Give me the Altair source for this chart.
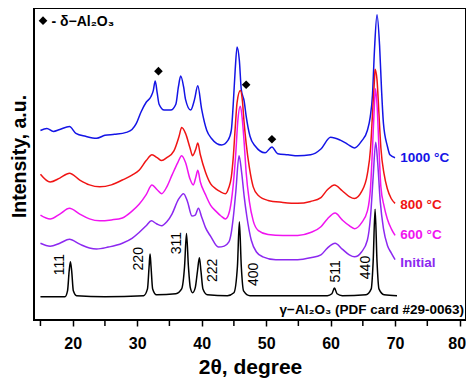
import altair as alt
import pandas as pd

FONT = "Liberation Sans"

# ---- data (2theta in degrees, intensity in arbitrary units) ----
blue_x = [15.0, 16.0, 17.0, 18.0, 19.5, 20.5, 22.0, 23.7, 25.0, 26.5, 28.3, 29.2, 29.85, 30.6, 31.4,
          32.15, 32.5, 32.8, 33.1, 33.4, 34.2, 35.2, 36.0, 36.4, 36.75, 37.2, 37.5, 38.3, 38.9, 39.4,
          40.0, 40.8, 41.5, 43.1, 44.1, 44.6, 44.9, 45.2, 45.5, 45.85, 46.15, 46.6, 46.9, 47.5, 48.3,
          49.85, 50.9, 51.8, 53.4, 54.9, 56.9, 58.5, 60.0, 61.5, 62.6, 63.7, 64.8, 65.7, 66.15, 66.5,
          66.8, 67.2, 67.6, 67.9, 68.2, 68.8, 69.2, 70.0]
blue_y = [195, 197, 194, 196, 199, 192, 189, 187, 190, 191, 193, 196, 202, 214, 224,
          230, 236, 246, 234, 222, 216, 216, 222, 240, 251, 240, 227, 216, 227, 241,
          217, 195, 187, 180, 185, 195, 222, 257, 281, 267, 237, 225, 210, 189, 179,
          172, 178, 171, 170, 169, 170, 176, 188, 185, 181, 177, 184, 195, 209, 232,
          277, 314, 282, 237, 202, 179, 170, 167]

red_x = [15.0, 16.5, 18.0, 19.5, 21.1, 22.6, 24.2, 26.0, 27.7, 29.2, 30.3, 31.4, 32.3, 33.1, 33.8,
         34.6, 35.7, 36.5, 36.9, 37.5, 38.2, 38.6, 39.1, 39.4, 39.8, 40.6, 41.4, 42.2, 42.9, 43.7,
         44.2, 44.6, 44.9, 45.2, 45.5, 46.0, 46.3, 46.6, 46.9, 47.4, 48.0, 48.8, 50.3, 52.6, 54.9,
         56.9, 58.5, 59.5, 60.6, 61.8, 62.9, 63.7, 64.8, 65.7, 66.2, 66.5, 66.8, 66.9, 67.2, 67.5,
         67.8, 68.3, 68.8, 69.4, 70.0]
red_y = [150, 142, 146, 151, 144, 139, 137, 139, 144, 149, 154, 164, 170, 167, 164,
         167, 174, 189, 198, 192, 177, 169, 176, 182, 170, 152, 140, 135, 132, 130,
         136, 147, 167, 197, 224, 236, 227, 202, 182, 157, 137, 128, 123, 121, 120,
         122, 126, 134, 139, 133, 127, 125, 132, 150, 177, 212, 247, 258, 247, 212,
         177, 150, 135, 125, 120]

mag_x = [15.0, 16.5, 18.0, 19.5, 21.1, 22.6, 24.2, 26.0, 27.7, 29.2, 30.3, 31.4, 32.3, 33.1, 33.8,
         34.6, 35.4, 36.3, 36.9, 37.5, 38.2, 38.7, 39.1, 39.4, 39.8, 40.6, 41.4, 42.2, 43.0, 43.7,
         44.2, 44.6, 44.9, 45.3, 45.6, 46.0, 46.3, 46.6, 46.9, 47.4, 48.0, 48.8, 50.3, 52.6, 54.9,
         56.9, 58.5, 59.5, 60.7, 61.8, 62.9, 63.7, 64.8, 65.7, 66.2, 66.5, 66.8, 66.95, 67.2, 67.5,
         67.8, 68.3, 68.8, 69.4, 70.0]
mag_y = [108, 104, 109, 115, 109, 104, 102, 103, 105, 112, 119, 129, 139, 134, 130,
         137, 149, 162, 169, 162, 145, 139, 147, 154, 142, 129, 118, 112, 107, 104,
         109, 122, 139, 172, 204, 220, 207, 182, 152, 122, 102, 92, 88, 87, 87,
         90, 96, 104, 110, 103, 97, 94, 100, 112, 137, 177, 222, 238, 222, 177,
         137, 117, 104, 94, 87]

ini_x = [15.0, 16.5, 18.0, 19.5, 21.1, 22.6, 23.7, 25.5, 27.7, 29.2, 30.3, 31.4, 32.2, 33.0, 33.8,
         34.6, 35.4, 36.4, 37.2, 37.8, 38.5, 39.0, 39.5, 40.0, 40.6, 41.4, 42.6, 43.5, 44.2, 44.6,
         44.9, 45.3, 45.8, 46.2, 46.6, 47.0, 47.7, 48.5, 49.5, 51.5, 54.9, 56.9, 58.5, 59.5, 60.7,
         61.8, 62.9, 63.7, 64.8, 65.7, 66.2, 66.6, 67.0, 67.3, 67.7, 68.2, 68.8, 69.4, 70.0]
ini_y = [79, 76, 79, 83, 78, 74, 73, 75, 79, 84, 90, 97, 102, 99, 97,
         101, 109, 124, 130, 122, 107, 108, 115, 106, 95, 86, 75, 76, 80, 90,
         105, 132, 169, 152, 127, 107, 82, 70, 65, 62, 62, 64, 67, 74, 79,
         73, 67, 65, 70, 82, 107, 147, 183, 162, 122, 94, 77, 69, 62]

ref_x = [15.0, 18.8, 19.2, 19.45, 19.65, 19.85, 20.1, 20.6, 25.0, 31.0, 31.6, 31.85, 32.0, 32.15, 32.4,
         33.0, 36.0, 36.9, 37.35, 37.65, 37.95, 38.25, 38.6, 39.0, 39.35, 39.65, 39.9, 40.2, 40.9, 44.0,
         45.0, 45.55, 45.85, 46.15, 46.5, 47.5, 59.5, 60.2, 60.6, 61.0, 61.8, 65.5, 66.3, 66.6, 66.9,
         67.2, 67.5, 68.3, 70.3]
ref_y = [24, 24, 30, 50, 60, 50, 30, 25, 24, 25, 32, 55, 68, 55, 32,
         26, 27, 32, 55, 89, 55, 33, 28, 33, 50, 64, 50, 32, 26, 25,
         28, 55, 101, 55, 30, 25, 25, 27, 33, 27, 25, 26, 32, 60, 114,
         60, 32, 26, 25]

series_names = ["1000 °C", "800 °C", "600 °C", "Initial", "ref"]
series_colors = ["#1414e6", "#f01414", "#f014f0", "#8c28f0", "#000000"]

hkl_labels = ["111", "220", "311", "222", "400", "511", "440"]
hkl_x = [18.0, 30.3, 36.15, 41.7, 48.15, 60.8, 65.5]
hkl_y = [57, 63, 79, 51, 47, 50, 54]

name_labels = ["1000 °C", "800 °C", "600 °C", "Initial"]
name_x = [70.8, 70.8, 70.8, 70.8]
name_y = [167, 118, 87, 59]

delta_x = [33.3, 46.9, 50.9]
delta_y = [256, 242, 186]

legend_mark_x = [15.4]
legend_mark_y = [308]
legend_text = ["- δ−Al₂O₃"]
legend_text_x = [16.7]
legend_text_y = [307]

card_text = ["γ−Al₂O₃ (PDF card #29-0063)"]
card_x = [80.7]
card_y = [10]

major_ticks = [20, 30, 40, 50, 60, 70, 80]
minor_ticks = [15, 25, 35, 45, 55, 65, 75]

PLOT_W, PLOT_H = 432, 312

# ---- tables ----
rows = []
for name, xs, ys in zip(series_names, [blue_x, red_x, mag_x, ini_x, ref_x],
                        [blue_y, red_y, mag_y, ini_y, ref_y]):
    for i, (a, b) in enumerate(zip(xs, ys)):
        rows.append({"series": name, "t": a, "I": b, "o": i})
curves = pd.DataFrame(rows)

xscale = alt.Scale(domain=[14, 81], nice=False, zero=False)
yscale = alt.Scale(domain=[0, 321], nice=False, zero=False)
cscale = alt.Scale(domain=series_names, range=series_colors)

xaxis = alt.Axis(values=major_ticks, format="d",
                 title="2θ, degree", titleFont=FONT, titleFontSize=21, titleFontWeight="bold",
                 titleColor="black", titlePadding=5,
                 labelFont=FONT, labelFontSize=16, labelFontWeight="bold", labelColor="black",
                 labelPadding=9, tickSize=6, tickWidth=1.5, tickColor="black",
                 domain=False, grid=False, labelFlush=10, labelFlushOffset=6)
yaxis = alt.Axis(title="Intensity, a.u.", titleFont=FONT, titleFontSize=19.5, titleFontWeight="bold",
                 titleColor="black", titlePadding=5, titleY=148,
                 labels=False, ticks=False, domain=False, grid=False)

lines = alt.Chart(curves).mark_line(strokeWidth=1.5, interpolate="monotone").encode(
    x=alt.X("t:Q", scale=xscale, axis=xaxis),
    y=alt.Y("I:Q", scale=yscale, axis=yaxis),
    color=alt.Color("series:N", scale=cscale, legend=None),
    detail="series:N",
    order="o:Q",
)

minor_df = pd.DataFrame({"t": minor_ticks})
minor = alt.Chart(minor_df).mark_tick(orient="vertical", size=6, thickness=1.5, color="black",
                                      opacity=1).encode(
    x="t:Q", y=alt.value(PLOT_H + 3))

hkl_df = pd.DataFrame({"lab": hkl_labels, "t": hkl_x, "I": hkl_y})
hkl = alt.Chart(hkl_df).mark_text(angle=270, align="center", baseline="middle",
                                  font=FONT, fontSize=14, color="black").encode(
    x="t:Q", y="I:Q", text="lab:N")

names_df = pd.DataFrame({"lab": name_labels, "t": name_x, "I": name_y})
names = alt.Chart(names_df).mark_text(align="left", baseline="middle", font=FONT, fontSize=13.5,
                                      fontWeight="bold").encode(
    x="t:Q", y="I:Q", text="lab:N",
    color=alt.Color("lab:N", scale=cscale, legend=None))

delta_df = pd.DataFrame({"t": delta_x + legend_mark_x, "I": delta_y + legend_mark_y})
deltas = alt.Chart(delta_df).mark_point(shape="diamond", filled=True, color="black",
                                        size=75, opacity=1).encode(
    x="t:Q", y="I:Q")

leg_df = pd.DataFrame({"lab": legend_text, "t": legend_text_x, "I": legend_text_y})
leg = alt.Chart(leg_df).mark_text(align="left", baseline="middle", font=FONT, fontSize=14,
                                  fontWeight="bold", color="black").encode(
    x="t:Q", y="I:Q", text="lab:N")

card_df = pd.DataFrame({"lab": card_text, "t": card_x, "I": card_y})
card = alt.Chart(card_df).mark_text(align="right", baseline="middle", font=FONT, fontSize=13.5,
                                    fontWeight="bold", color="black").encode(
    x="t:Q", y="I:Q", text="lab:N")

chart = alt.layer(lines, minor, hkl, names, deltas, leg, card).properties(
    width=PLOT_W, height=PLOT_H,
    autosize=alt.AutoSizeParams(type="none"),
    padding={"left": 26, "top": 0, "right": 0, "bottom": 60},
    background="white",
).configure_view(stroke="black", strokeWidth=2)

chart.save("out.html", embed_options={"renderer": "svg", "actions": False})
